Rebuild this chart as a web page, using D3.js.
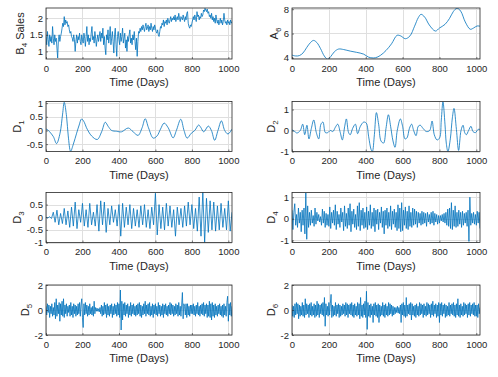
<!DOCTYPE html>
<html><head><meta charset="utf-8">
<script src="https://cdn.jsdelivr.net/npm/d3@7"></script>
<style>
body{margin:0;background:#fff}
svg{display:block}
text{font-family:Arial,"Liberation Sans",Helvetica,sans-serif;fill:#262626}
</style>
</head><body><svg id="c" width="498" height="377"></svg>
<script>
// ---------- data ----------
const xTicks=[0,200,400,600,800,1000];
const xMax=1020;
const xLabel="Time (Days)";
const stepDays=4;

const b4Sales=[
1.45,1.2,1.6,1.35,1.15,1.5,1.3,1.45,1.25,1.75,1.4,1.2,1.5,1.3,1.4,1.1,0.8,1.35,1.5,1.3,1.45,1.55,1.7,1.85,1.75,
2.05,1.8,1.95,1.85,1.9,1.75,1.8,1.65,1.55,1.6,1.45,1.4,1.3,1.5,1.35,1.0,1.3,1.5,1.25,1.45,1.35,1.55,1.3,1.2,1.5,
1.35,1.25,1.55,1.4,1.15,1.45,1.75,1.3,1.5,1.2,1.4,1.3,1.55,1.75,1.35,1.45,1.25,1.6,1.4,1.15,1.35,1.5,1.3,1.45,1.6,
1.3,1.55,1.4,1.7,1.2,1.45,1.1,0.9,1.5,1.35,1.65,1.25,1.45,1.75,1.2,1.4,1.6,1.3,0.95,1.5,1.7,1.2,0.85,1.45,1.6,
1.35,1.2,1.55,1.3,1.45,1.7,1.25,1.4,1.55,1.1,1.35,1.0,1.45,1.3,1.5,1.65,1.25,1.4,1.2,1.5,1.35,1.6,1.3,1.05,1.4,
0.85,1.3,1.6,1.55,1.7,1.6,1.75,1.65,1.8,1.7,1.6,1.75,1.85,1.65,1.7,1.8,1.6,1.75,1.65,1.85,1.7,1.6,1.75,1.65,1.8,
1.7,1.6,1.55,1.65,1.5,1.45,1.6,1.75,1.7,1.85,1.8,1.95,1.75,1.9,1.85,1.95,1.8,2.0,1.9,1.85,1.95,2.05,1.9,2.0,1.95,
2.05,1.95,2.1,1.9,2.0,2.05,1.95,2.15,2.0,1.9,2.05,2.0,1.95,2.1,2.0,1.9,2.05,1.95,2.15,2.2,1.85,1.75,1.7,1.8,1.75,
1.85,1.95,2.05,1.95,2.1,2.0,1.9,2.2,2.05,2.1,1.95,2.05,2.0,2.15,2.05,2.1,2.25,2.2,2.3,2.25,2.2,2.28,2.15,2.2,2.05,
2.1,2.0,2.15,1.95,2.05,1.9,2.0,1.85,2.1,1.95,1.85,1.95,1.8,1.9,2.0,1.85,1.95,1.8,1.9,2.15,1.95,1.85,1.9,1.8,1.95,
1.85,1.9,1.8,1.95,1.85,1.9];

const a6Days=[0,20,40,60,80,100,117,135,155,175,193,210,230,253,280,316,350,389,416,452,480,510,540,570,590,615,640,665,685,700,720,745,778,800,830,855,875,895,915,940,967,985,1004,1020];
const a6Vals=[4.22,4.15,4.18,4.4,4.85,5.25,5.43,5.25,4.75,4.15,3.88,4.1,4.5,4.72,4.68,4.55,4.45,4.3,4.05,4.0,4.2,4.6,5.15,5.85,5.8,5.57,5.8,6.6,7.3,7.58,7.35,6.7,6.2,6.45,6.75,7.25,7.8,8.08,7.85,6.95,6.35,6.45,6.62,6.6];

const d1Days=[0,10,20,40,58,77,91,100,113,122,135,150,168,182,195,210,222,250,281,305,325,341,360,387,414,451,478,505,527,544,562,588,609,628,648,670,697,715,739,757,774,797,816,837,848,865,890,907,925,943,962,980,998,1020];
const d1Vals=[0.05,0.02,-0.05,-0.22,-0.48,-0.1,0.6,1.03,0.5,-0.2,-0.76,-0.5,-0.1,0.2,0.42,0.3,0.1,-0.2,-0.33,-0.05,0.3,0.15,0.0,-0.03,-0.05,0.09,-0.05,-0.18,0.1,0.43,0.1,-0.28,-0.2,0.05,0.27,0.1,-0.27,0.0,0.41,0.0,-0.28,-0.1,0.0,0.2,0.12,-0.05,0.16,0.0,-0.36,0.0,0.35,0.0,-0.13,0.05];

const d2Days=[0,15,27,45,58,69,81,92,105,118,132,145,157,168,181,194,208,222,235,248,262,273,286,295,307,316,329,344,356,371,389,403,416,429,436,447,458,470,483,497,510,523,535,548,559,571,588,600,613,624,637,649,660,673,685,696,711,729,747,760,772,787,801,810,819,830,837,846,859,870,879,892,904,917,928,937,946,958,971,982,996,1009,1020];
const d2Vals=[0.03,-0.05,-0.12,0.0,0.3,-0.2,0.25,-0.4,0.1,0.5,-0.1,-0.4,0.3,0.4,-0.1,-0.1,0.0,-0.05,0.15,0.3,-0.1,-0.45,0.2,0.55,-0.1,-0.2,0.1,0.3,-0.15,0.2,0.4,0.35,-0.3,-0.9,-1.0,-0.2,0.85,0.3,-0.5,-0.6,0.1,0.75,0.2,-0.5,-0.8,0.0,0.55,0.2,-0.4,-0.35,0.1,0.3,0.0,-0.25,0.2,0.25,0.1,-0.05,0.0,0.45,-0.2,-0.45,-0.35,0.5,1.37,0.3,-0.6,-1.0,-0.4,0.6,1.05,0.05,-0.95,0.0,0.25,-0.1,-0.2,0.0,0.2,-0.05,-0.1,0.05,0.05];

const d3Step=10;
const d3Vals=[0.0,-0.03,0.02,-0.05,0.2,-0.2,0.28,-0.3,0.15,-0.25,
0.35,-0.3,0.25,-0.4,0.4,-0.35,0.6,-0.45,0.3,-0.2,
0.55,-0.35,0.3,-0.4,0.55,-0.3,0.2,-0.35,0.5,-0.55,
0.65,-0.3,0.6,-0.6,0.35,-0.3,0.45,-0.2,0.3,-0.35,
0.5,-0.75,0.55,-0.4,0.4,-0.3,0.5,-0.45,0.35,-0.35,
0.3,-0.4,0.45,-0.3,0.5,-0.4,0.3,-0.45,0.4,-0.3,
0.95,-0.7,0.5,-0.45,0.4,-0.5,0.55,-0.35,0.45,-0.4,
0.3,-0.75,0.4,-0.3,0.35,-0.4,0.45,-0.35,0.6,-0.3,
0.5,-0.45,0.35,-0.55,0.8,-0.75,1.0,-1.0,0.75,-0.6,
0.65,-0.5,0.6,-0.55,0.45,-0.5,0.55,-0.4,0.35,-0.5,
0.65,-0.55,0.2];

const d4Step=5;
const d4Vals=[
0.4,-0.5,0.3,0.7,-0.3,0.2,-0.4,0.5,-0.2,0.3,-0.6,0.4,-0.3,0.5,-0.7,1.2,-0.95,0.6,-0.4,0.3,
-0.3,0.4,-0.2,0.15,-0.35,0.5,-0.25,0.3,-0.1,0.2,-0.15,0.1,-0.3,0.45,-0.2,0.35,-0.4,0.25,-0.3,0.2,
-0.35,0.55,-0.45,0.3,-0.2,0.4,-0.3,0.65,-0.5,0.35,-0.25,0.2,-0.4,0.5,-0.15,0.3,-0.55,0.6,-0.35,0.25,
-0.45,0.5,-0.3,0.7,-0.6,0.35,-0.25,0.45,-0.4,0.2,-0.5,0.6,-0.35,0.75,-0.55,0.4,-0.3,0.5,-0.45,0.3,
-0.4,0.55,-0.5,0.35,-0.3,0.65,-0.45,0.3,-0.35,0.5,-0.6,0.4,-0.25,0.45,-0.5,0.3,-0.2,0.55,-0.4,0.35,
-0.7,0.4,-0.3,0.5,-0.45,0.3,-0.35,0.6,-0.5,0.35,-0.25,0.45,-0.4,0.3,-0.55,0.65,-0.45,0.5,-0.6,0.75,
-0.55,0.4,-0.3,0.55,-0.45,0.35,-0.5,0.6,-0.35,0.3,-0.4,0.5,-0.3,0.45,-0.25,0.35,-0.4,0.3,-0.2,0.25,
-0.3,0.35,-0.25,0.3,-0.2,0.25,-0.35,0.3,-0.15,0.2,-0.25,0.3,-0.2,0.35,-0.3,0.25,-0.15,0.2,-0.25,0.15,
-0.2,0.15,-0.1,0.2,-0.15,0.25,-0.2,0.3,-0.3,0.45,-0.35,0.5,-0.45,0.75,-0.5,0.4,-0.35,0.6,-0.4,0.3,
-0.35,0.4,-0.25,0.3,-0.4,0.35,-0.3,0.25,-0.2,0.3,-0.35,0.4,-1.05,1.0,-0.3,0.25,-0.2,0.3,-0.25,0.2,
-0.3,0.35,-0.2,0.3,-0.45];

const d5Vals=[
0.3,-0.4,0.5,-0.2,0.4,-0.6,0.3,-0.3,0.5,-0.5,0.2,-0.4,0.6,-0.7,0.9,-0.5,0.4,-0.3,0.6,-0.9,0.5,-0.4,0.7,-0.5,0.9,
-0.6,0.4,-0.3,0.5,-0.5,0.3,-0.2,0.4,-0.5,0.6,-0.4,0.3,-0.6,0.5,-0.3,0.4,-0.5,0.3,-0.4,0.5,-0.3,0.6,-0.5,0.4,0.9,
-0.6,-1.4,0.5,-0.4,0.6,-0.3,0.4,-0.5,0.3,-0.4,0.5,-0.3,0.2,-0.4,0.3,-0.5,0.7,-0.3,0.2,-0.1,0.15,-0.1,0.1,-0.15,0.2,
-0.3,0.4,-0.5,0.3,-0.4,0.6,-0.3,0.4,-0.6,0.5,-0.4,0.3,-0.5,0.4,-0.3,0.5,-0.6,0.3,-0.4,0.5,-0.3,0.4,-0.5,0.6,-0.4,
0.5,-0.6,1.6,-1.6,0.7,-0.8,0.5,-0.4,0.6,-0.5,0.4,-0.3,0.5,-0.6,0.3,-0.4,0.6,-0.5,0.4,-0.3,0.5,-0.4,0.3,-0.5,0.4,
-0.4,0.5,-0.3,0.6,-0.5,0.4,-0.6,0.3,-0.4,0.5,-0.3,0.7,-0.5,0.4,-0.3,0.5,-0.4,0.6,-0.5,0.3,-0.4,0.5,-0.6,0.4,-0.3,
0.5,-0.4,0.3,-0.5,0.6,-0.3,0.4,-0.5,0.3,-0.4,0.5,-0.6,0.4,-0.3,0.5,-0.4,0.3,-0.5,0.4,-0.3,0.6,-0.4,0.5,-0.3,0.4,
-0.5,0.3,-0.4,0.5,-0.3,0.4,-0.5,0.6,-0.4,0.3,-0.5,0.4,1.4,-0.7,0.5,0.3,-0.4,0.5,-0.6,0.5,-0.4,0.3,-0.5,0.4,-0.3,
0.4,-0.3,0.5,-0.4,0.3,-0.5,0.4,-0.3,0.6,-0.4,0.3,-0.5,0.4,-0.3,0.5,-0.4,0.6,-0.5,0.4,-0.3,0.5,-0.6,0.4,-0.5,0.7,
-0.6,0.5,-0.8,0.6,-0.5,0.4,-0.6,0.5,-0.4,0.3,-0.5,0.4,-0.3,0.5,-0.4,0.3,-0.5,0.4,-0.6,0.5,-0.4,0.3,-0.5,0.6,1.1,
-0.9,0.5,-0.4,0.6,-0.5,0.3];

const d6Vals=[
0.4,-0.5,0.3,-0.6,0.5,-0.4,0.6,-0.3,0.5,-0.7,0.4,-0.5,0.3,-0.4,0.6,-0.5,0.4,-0.6,0.9,-0.4,0.5,-0.3,0.4,-0.6,0.5,
-0.4,0.6,-0.5,0.3,-0.4,0.5,-0.6,0.4,-0.5,0.7,-0.4,0.5,-0.6,0.4,-0.3,0.5,-0.4,0.6,-0.5,1.0,-1.3,0.5,-0.4,0.3,-0.5,
0.6,-0.4,0.5,1.25,-0.6,0.4,-0.5,0.3,-0.4,0.6,-0.5,0.4,-0.3,0.5,-0.6,0.4,-0.5,0.3,-0.4,0.5,-0.3,0.4,-0.5,0.6,-0.4,
0.5,-0.6,0.4,-0.3,0.5,-0.4,0.6,-0.5,0.4,-0.6,0.5,-0.4,0.3,-0.5,0.6,-0.4,0.5,-0.7,1.0,-0.5,0.4,-0.6,0.5,-0.4,0.7,
-0.6,1.5,-1.55,0.6,-0.5,0.4,-0.6,0.5,-0.4,0.3,-1.0,0.5,-0.4,0.6,-0.5,0.4,-0.6,0.5,-1.0,0.4,-0.5,0.3,-0.4,0.6,-0.5,
0.4,-0.6,0.5,-0.4,0.3,-0.5,0.6,-0.4,0.5,-0.3,0.4,-0.5,0.3,-0.4,0.2,-0.3,0.2,-0.2,0.3,-0.25,0.2,-0.3,0.4,-1.0,0.5,
-0.4,0.6,-0.5,0.4,-0.6,1.0,-0.5,0.4,-0.3,0.5,-0.4,0.6,-0.8,0.5,-0.4,0.3,-0.5,0.4,-0.6,0.5,-0.4,0.3,-0.5,0.6,-0.4,
0.5,-0.3,0.4,-0.6,0.5,-0.4,0.3,-0.5,0.6,-0.4,0.5,-0.3,0.4,-0.6,0.5,-0.4,0.7,-0.5,0.4,-0.3,0.5,-0.6,0.4,-0.5,0.6,
-1.0,0.5,-0.4,0.6,-0.5,0.4,-0.3,0.5,-0.6,0.4,-0.5,0.3,-0.4,0.6,-0.5,0.4,-0.3,0.5,-0.4,0.6,-0.5,0.4,-0.6,0.5,-0.4,
0.9,-0.5,0.4,-0.6,0.5,-0.4,0.3,-0.5,0.6,-0.4,0.5,-0.3,0.4,-0.6,0.5,-0.4,0.6,-0.5,0.4,-0.3,0.5,-0.4,0.6,-0.5,0.4,
-0.5,0.4,-0.6,0.5,-0.3,0.2];

// ---------- panels ----------
const stepSeries=(vals,step)=>vals.map((v,i)=>[i*step,v]);
const pairSeries=(days,vals)=>days.map((d,i)=>[d,vals[i]]);
const panels=[
 {lab:["B","4"," Sales"],pts:stepSeries(b4Sales,stepDays),ticks:[1,1.5,2],dom:[0.77,2.31],col:0,row:0,smooth:false},
 {lab:["A","6",""],pts:pairSeries(a6Days,a6Vals),ticks:[4,6,8],dom:[3.9,8.1],col:1,row:0,smooth:true},
 {lab:["D","1",""],pts:pairSeries(d1Days,d1Vals),ticks:[-0.5,0,0.5,1],dom:[-0.77,1.06],col:0,row:1,smooth:true},
 {lab:["D","2",""],pts:pairSeries(d2Days,d2Vals),ticks:[-1,0,1],dom:[-1.0,1.38],col:1,row:1,smooth:true},
 {lab:["D","3",""],pts:stepSeries(d3Vals,d3Step),ticks:[-1,-0.5,0,0.5],dom:[-1.0,0.98],col:0,row:2,smooth:false},
 {lab:["D","4",""],pts:stepSeries(d4Vals,d4Step),ticks:[-1,0,1],dom:[-1.1,1.22],col:1,row:2,smooth:false},
 {lab:["D","5",""],pts:stepSeries(d5Vals,stepDays),ticks:[-2,0,2],dom:[-2,2],col:0,row:3,smooth:false},
 {lab:["D","6",""],pts:stepSeries(d6Vals,stepDays),ticks:[-2,0,2],dom:[-2,2],col:1,row:3,smooth:false}
];

// ---------- layout ----------
const colX=[[46,232],[292,480]];
const rowY=[[8,59],[101.5,151.5],[192.5,242.5],[285,335]];
const lineColor="#0072BD", gridColor="#dfdfdf", axisColor="#262626";
const tickFont=9.5, labFont=11;

const svg=d3.select("#c");
const fmt=d=>String(d);

panels.forEach((p,k)=>{
  const [x0,x1]=colX[p.col],[y0,y1]=rowY[p.row];
  const x=d3.scaleLinear().domain([0,xMax]).range([x0,x1]);
  const y=d3.scaleLinear().domain(p.dom).range([y1,y0]);
  const g=svg.append("g");
  // grid
  g.append("g").selectAll("line").data(xTicks).join("line")
    .attr("x1",d=>Math.round(x(d))+0.5).attr("x2",d=>Math.round(x(d))+0.5)
    .attr("y1",y0).attr("y2",y1).attr("stroke",gridColor).attr("stroke-width",1);
  g.append("g").selectAll("line").data(p.ticks).join("line")
    .attr("y1",d=>Math.round(y(d))+0.5).attr("y2",d=>Math.round(y(d))+0.5)
    .attr("x1",x0).attr("x2",x1).attr("stroke",gridColor).attr("stroke-width",1);
  // data line
  const cid="clip"+k;
  svg.append("clipPath").attr("id",cid).append("rect").attr("x",x0).attr("y",y0).attr("width",x1-x0).attr("height",y1-y0);
  const line=d3.line().x(d=>x(d[0])).y(d=>y(d[1]));
  if(p.smooth) line.curve(d3.curveCatmullRom.alpha(0.5));
  g.append("path").datum(p.pts).attr("d",line).attr("fill","none")
    .attr("stroke",lineColor).attr("stroke-width",0.8).attr("clip-path",`url(#${cid})`);
  // axes
  const ax=g.append("g").attr("transform",`translate(0,${y1})`)
    .call(d3.axisBottom(x).tickValues(xTicks).tickFormat(fmt).tickSize(-2).tickPadding(6));
  const ay=g.append("g").attr("transform",`translate(${x0},0)`)
    .call(d3.axisLeft(y).tickValues(p.ticks).tickFormat(fmt).tickSize(-2).tickPadding(3));
  [ax,ay].forEach(a=>{
    a.select(".domain").remove();
    a.selectAll("line").attr("stroke",axisColor).attr("stroke-width",0.6);
    a.selectAll("text").attr("font-size",tickFont).attr("font-family",null).attr("fill",axisColor);
  });
  // box
  g.append("rect").attr("x",x0).attr("y",y0).attr("width",x1-x0).attr("height",y1-y0)
    .attr("fill","none").attr("stroke",axisColor).attr("stroke-width",0.8);
  // x label
  g.append("text").attr("x",(x0+x1)/2).attr("y",y1+27).attr("text-anchor","middle")
    .attr("font-size",labFont).text(xLabel);
  // y label
  let minLeft=Infinity;
  ay.selectAll("text").each(function(){const b=this.getBBox();minLeft=Math.min(minLeft,b.x);});
  const lx=x0+minLeft-6;
  const t=g.append("text").attr("transform",`translate(${lx},${(y0+y1)/2}) rotate(-90)`)
    .attr("text-anchor","middle").attr("font-size",labFont);
  t.append("tspan").text(p.lab[0]);
  t.append("tspan").attr("dy",3).attr("font-size",8).text(p.lab[1]);
  if(p.lab[2]) t.append("tspan").attr("dy",-3).text(p.lab[2]);
});
</script>
</body></html>
